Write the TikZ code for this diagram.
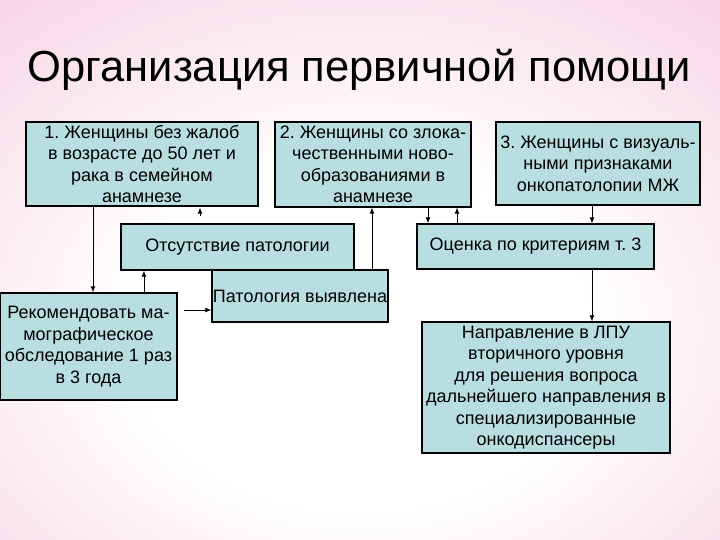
\documentclass[tikz,border=0pt]{standalone}
\usepackage{fontspec}
\setmainfont{Liberation Sans}
\usetikzlibrary{positioning, arrows.meta, calc}
\frenchspacing

\definecolor{boxfill}{RGB}{185,222,226}
\definecolor{bgpink}{RGB}{243,194,217}
\pgfdeclareradialshading{slidebg}{\pgfpoint{0bp}{-8bp}}{color(0bp)=(white); color(16bp)=(white); color(50bp)=(bgpink); color(80bp)=(bgpink)}

\begin{document}
\begin{tikzpicture}[
  x=1pt, y=-1pt,
  >={Latex[length=6pt,width=5pt]},
  box/.style={draw, fill=boxfill, line width=1.2pt, align=center, inner sep=0pt,
    font=\fontsize{18}{21.5}\selectfont},
  link/.style={->, line width=1pt}
]
  \shade[shading=slidebg] (0,0) rectangle (720,540);
  \useasboundingbox (0,0) rectangle (720,540);

  \node[font=\fontsize{43.5}{48}\selectfont, anchor=base] (title) at (359,82) {Организация первичной помощи};

  % top row
  \node[box, minimum width=232pt, minimum height=84pt] (women1) at (142,164) {
    1. Женщины без жалоб\\в возрасте до 50 лет и\\рака в семейном\\анамнезе};
  \node[box, minimum width=196pt, minimum height=85pt] (women2) at (373,164.5) {
    2. Женщины со злока-\\чественными ново-\\образованиями в\\анамнезе};
  \node[box, minimum width=204pt, minimum height=83pt] (women3) at (598,163.5) {
    3. Женщины с визуаль-\\ными признаками\\онкопатолопии МЖ};

  % middle row
  \node[box, minimum width=233pt, minimum height=46pt] (absence) at (237.5,247) {Отсутствие патологии};
  \node[box, minimum width=237pt, minimum height=45pt] (estimate) at (535.5,246.5) {Оценка по критериям т. 3};
  \node[box, minimum width=176pt, minimum height=52pt] (found) at (300,296) {Патология выявлена};

  % bottom row
  \node[box, minimum width=177pt, minimum height=107pt] (recommend) at (88.5,346.5) {
    Рекомендовать ма-\\мографическое\\обследование 1 раз\\в 3 года};
  \node[box, minimum width=248pt, minimum height=131pt] (referral) at (546,387.5) {
    Направление в ЛПУ\\вторичного уровня\\для решения вопроса\\дальнейшего направления в\\специализированные\\онкодиспансеры};

  % arrow columns
  \coordinate (c1) at (93,0);
  \coordinate (c2) at (144,0);
  \coordinate (c3) at (200,0);
  \coordinate (c4) at (372,0);
  \coordinate (c5) at (428,0);
  \coordinate (c6) at (457,0);
  \coordinate (c7) at (592,0);
  \coordinate (r1) at (0,310);

  \draw[link] (women1.south -| c1) -- (recommend.north -| c1);
  \draw[link] (recommend.north -| c2) -- (absence.south -| c2);
  \draw[link, shorten <=7pt, shorten >=1pt] (absence.north -| c3) -- (women1.south -| c3);
  \draw[link, shorten <=6pt] (recommend.east |- r1) -- (found.west |- r1);
  \draw[link] (found.north -| c4) -- (women2.south -| c4);
  \draw[link] (women2.south -| c5) -- (estimate.north -| c5);
  \draw[link] (estimate.north -| c6) -- (women2.south -| c6);
  \draw[link] (women3.south -| c7) -- (estimate.north -| c7);
  \draw[link] (estimate.south -| c7) -- (referral.north -| c7);
\end{tikzpicture}
\end{document}
